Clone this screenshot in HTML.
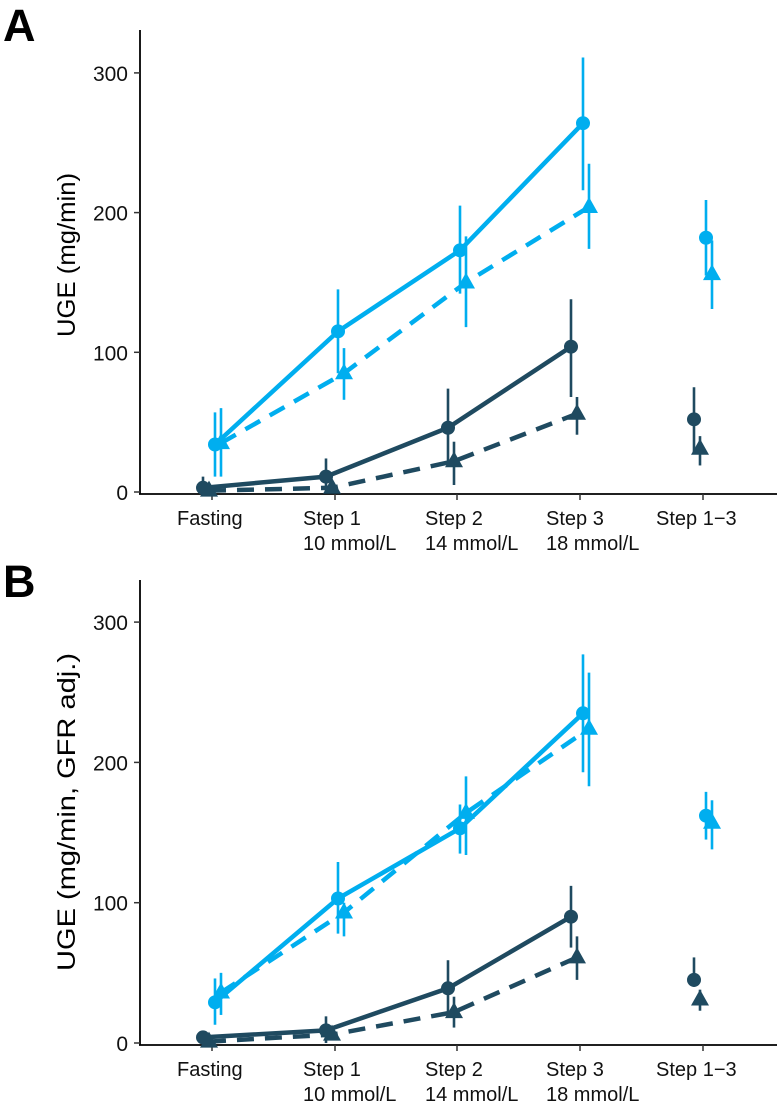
<!DOCTYPE html>
<html><head><meta charset="utf-8"><style>
body{margin:0;background:#fff;}
svg{display:block;font-family:"Liberation Sans",sans-serif;}
</style></head><body>
<svg id="chart" width="777" height="1109"></svg>
<script>
const categories = ["Fasting","Step 1","Step 2","Step 3","Step 1\u22123"];
const subLabels = ["","10 mmol/L","14 mmol/L","18 mmol/L",""];
const yTicks = [0,100,200,300];
// Panel A
const aLightCircle = [34,115,173,264,182];
const aLightCircleHi = [57,145,205,311,209];
const aLightCircleLo = [11,85,142,216,155];
const aLightTri = [35,85,150,204,156];
const aLightTriHi = [60,103,183,235,180];
const aLightTriLo = [11,66,118,174,131];
const aDarkCircle = [3,11,46,104,52];
const aDarkCircleHi = [11,24,74,138,75];
const aDarkCircleLo = [0,0,20,68,28];
const aDarkTri = [1,3,22,56,31];
const aDarkTriHi = [3,6,36,68,40];
const aDarkTriLo = [0,0,5,41,19];
// Panel B
const bLightCircle = [29,103,153,235,162];
const bLightCircleHi = [46,129,170,277,179];
const bLightCircleLo = [13,78,135,193,145];
const bLightTri = [36,93,164,224,157];
const bLightTriHi = [50,100,190,264,173];
const bLightTriLo = [20,76,134,183,138];
const bDarkCircle = [4,9,39,90,45];
const bDarkCircleHi = [8,19,59,112,61];
const bDarkCircleLo = [0,0,19,68,40];
const bDarkTri = [1,6,22,61,31];
const bDarkTriHi = [3,9,33,76,38];
const bDarkTriLo = [0,2,11,45,23];

const NS="http://www.w3.org/2000/svg";
const svg=document.getElementById('chart');
const LIGHT="#00AEEF", DARK="#1F4A60";
function mk(tag,attrs,parent){const e=document.createElementNS(NS,tag);for(const k in attrs)e.setAttribute(k,attrs[k]);(parent||svg).appendChild(e);return e;}
const xCenters=[212,335,457,580,703];
const labelStart=[177,303,425,546,656];

function panel(p){
  const g=mk('g',{});
  
  
  const y=v=>p.y0-v*p.k;
  const x=(i,off)=>xCenters[i]+off;
  const ya=mk('line',{x1:140,y1:p.top,x2:140,y2:p.y0+2,stroke:'#000','stroke-width':1.8},g);
  
  const xa=mk('line',{x1:139,y1:p.y0+2,x2:777,y2:p.y0+2,stroke:'#000','stroke-width':1.8},g);
  
  yTicks.forEach(t=>{
    mk('line',{x1:134,x2:140,y1:y(t),y2:y(t),stroke:'#333','stroke-width':1.5},g);
    const tx=mk('text',{x:128,y:y(t)+8,'text-anchor':'end','font-size':21,fill:'#111'},g);
    tx.textContent=t;
    
  });
  categories.forEach((c,i)=>{
    mk('line',{x1:xCenters[i],x2:xCenters[i],y1:p.y0+2,y2:p.y0+8,stroke:'#333','stroke-width':1.5},g);
    const t=mk('text',{x:labelStart[i],y:p.y0+33,'font-size':20,fill:'#111'},g);
    t.textContent=c;
    
    if(subLabels[i]){const s=mk('text',{x:labelStart[i],y:p.y0+58,'font-size':20,fill:'#111'},g);s.textContent=subLabels[i];
      }
  });
  const yt=mk('text',{transform:`translate(75,${p.titleY}) rotate(-90)`,'text-anchor':'middle','font-size':25,fill:'#000',textLength:p.titleLen,lengthAdjust:'spacingAndGlyphs'},g);
  yt.textContent=p.ytitle;
  
  const L=mk('text',{x:3,y:p.letterY,'font-size':45,'font-weight':'bold',fill:'#000'},g);
  L.textContent=p.letter;
  

  p.series.forEach(s=>{
    const sg=mk('g',{},g);
    
    const pts=[0,1,2,3].map(i=>x(i,s.off)+','+y(s.v[i])).join(' ');
    mk('polyline',{points:pts,fill:'none',stroke:s.c,'stroke-width':4.5,'stroke-dasharray':s.tri?'17 11':'none'},sg);
    s.v.forEach((v,i)=>{
      const e=mk('line',{x1:x(i,s.off),x2:x(i,s.off),y1:y(s.hi[i]),y2:y(s.lo[i]),stroke:s.c,'stroke-width':2.6},sg);
      
      let m;
      if(s.tri){const cx=x(i,s.off),cy=y(v);m=mk('polygon',{points:`${cx},${cy-10} ${cx-9},${cy+6} ${cx+9},${cy+6}`,fill:s.c},sg);}
      else m=mk('circle',{cx:x(i,s.off),cy:y(v),r:7,fill:s.c},sg);
      
    });
  });
}
panel({letter:'A',letterY:41,top:30,y0:492,k:1.397,ytitle:'UGE (mg/min)',titleY:255,titleLen:164,series:[
 {name:'dark-circle-series',v:aDarkCircle,hi:aDarkCircleHi,lo:aDarkCircleLo,c:DARK,off:-9,tri:false},
 {name:'dark-triangle-series',v:aDarkTri,hi:aDarkTriHi,lo:aDarkTriLo,c:DARK,off:-3,tri:true},
 {name:'light-circle-series',v:aLightCircle,hi:aLightCircleHi,lo:aLightCircleLo,c:LIGHT,off:3,tri:false},
 {name:'light-triangle-series',v:aLightTri,hi:aLightTriHi,lo:aLightTriLo,c:LIGHT,off:9,tri:true}]});
panel({letter:'B',letterY:597,top:580,y0:1043,k:1.403,ytitle:'UGE (mg/min, GFR adj.)',titleY:812,titleLen:318,series:[
 {name:'dark-circle-series',v:bDarkCircle,hi:bDarkCircleHi,lo:bDarkCircleLo,c:DARK,off:-9,tri:false},
 {name:'dark-triangle-series',v:bDarkTri,hi:bDarkTriHi,lo:bDarkTriLo,c:DARK,off:-3,tri:true},
 {name:'light-circle-series',v:bLightCircle,hi:bLightCircleHi,lo:bLightCircleLo,c:LIGHT,off:3,tri:false},
 {name:'light-triangle-series',v:bLightTri,hi:bLightTriHi,lo:bLightTriLo,c:LIGHT,off:9,tri:true}]});
</script>
</body></html>
